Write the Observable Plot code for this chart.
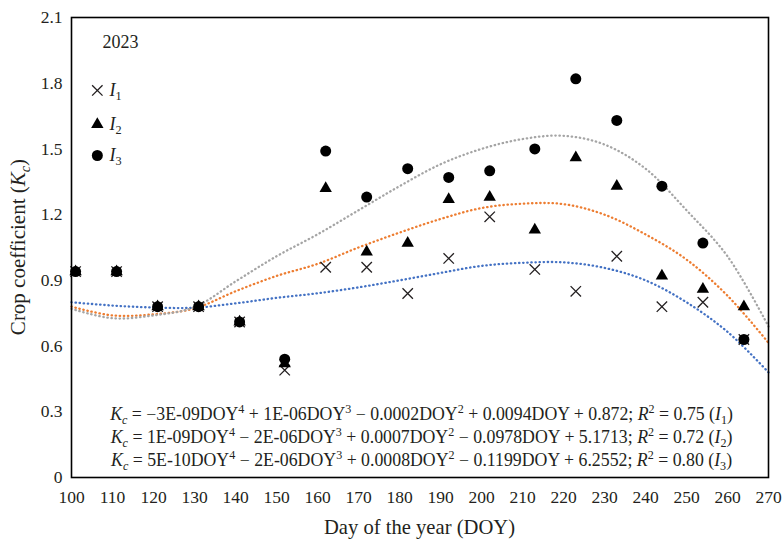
<!DOCTYPE html>
<html>
<head>
<meta charset="utf-8">
<script src="https://cdn.jsdelivr.net/npm/d3@7"></script>
<script src="https://cdn.jsdelivr.net/npm/@observablehq/plot@0.6"></script>
<style>
  html, body { margin: 0; padding: 0; background: #fff; }
  #chart { width: 782px; height: 547px; }
</style>
</head>
<body>
<div id="chart"></div>
<script>
// ---- Data ----
const doy = [101, 111, 121, 131, 141, 152, 162, 172, 182, 192, 202, 213, 223, 233, 244, 254, 264];
const kcI1 = [0.94, 0.94, 0.78, 0.78, 0.71, 0.49, 0.96, 0.96, 0.84, 1.00, 1.19, 0.95, 0.85, 1.01, 0.78, 0.80, 0.63];
const kcI2 = [0.94, 0.94, 0.78, 0.78, 0.71, 0.52, 1.32, 1.03, 1.07, 1.27, 1.28, 1.13, 1.46, 1.33, 0.92, 0.86, 0.78];
const kcI3 = [0.94, 0.94, 0.78, 0.78, 0.71, 0.54, 1.49, 1.28, 1.41, 1.37, 1.40, 1.50, 1.82, 1.63, 1.33, 1.07, 0.63];

// trend lines (4th order polynomial fits)
const trendDoy = [100, 110, 120, 130, 140, 150, 160, 170, 180, 190, 200, 210, 220, 230, 240, 250, 260, 270];
const trendI1 = [0.80, 0.785, 0.776, 0.775, 0.795, 0.82, 0.841, 0.868, 0.90, 0.934, 0.966, 0.98, 0.982, 0.957, 0.90, 0.80, 0.665, 0.48];
const trendI2 = [0.78, 0.74, 0.745, 0.772, 0.85, 0.92, 0.975, 1.05, 1.118, 1.18, 1.23, 1.25, 1.248, 1.20, 1.11, 0.995, 0.83, 0.615];
const trendI3 = [0.77, 0.727, 0.74, 0.778, 0.895, 1.01, 1.11, 1.22, 1.33, 1.43, 1.50, 1.545, 1.56, 1.52, 1.41, 1.22, 1.01, 0.69];

const seriesNames = ["I1", "I2", "I3"];
const trendColors = ["#4472C4", "#ED7D31", "#A5A5A5"];
const xTicks = [100, 110, 120, 130, 140, 150, 160, 170, 180, 190, 200, 210, 220, 230, 240, 250, 260, 270];
const yTicks = [0, 0.3, 0.6, 0.9, 1.2, 1.5, 1.8, 2.1];
const yearLabel = "2023";
const xTitle = "Day of the year (DOY)";
const equations = [
  { a: "−3E-09", b: "1E-06", s1: "+", c: "0.0002", s2: "−", d: "0.0094", s3: "+", e: "0.872", s4: "+", r2: "0.75", sub: "1" },
  { a: "1E-09", b: "2E-06", s1: "−", c: "0.0007", s2: "+", d: "0.0978", s3: "−", e: "5.1713", s4: "+", r2: "0.72", sub: "2" },
  { a: "5E-10", b: "2E-06", s1: "−", c: "0.0008", s2: "+", d: "0.1199", s3: "−", e: "6.2552", s4: "+", r2: "0.80", sub: "3" }
];

// ---- build tables ----
const seriesKc = [kcI1, kcI2, kcI3];
const points = [];
seriesKc.forEach((vals, s) => vals.forEach((v, i) => points.push({ doy: doy[i], kc: v, s })));
const trends = [trendI1, trendI2, trendI3];
const trendRows = [];
trends.forEach((vals, s) => vals.forEach((v, i) => trendRows.push({ doy: trendDoy[i], kc: v, s })));

// legend layout (in data units)
const legX = 106.3;
const legY = [1.767, 1.612, 1.47];
const legendRows = seriesNames.map((n, s) => ({ doy: legX, kc: legY[s], s }));

const FONT = "'Liberation Serif', 'DejaVu Serif', serif";
const INK = "#231f20";

function dotMarks(data, s) {
  const rows = data.filter(d => d.s === s);
  if (s === 0) return Plot.dot(rows, { x: "doy", y: "kc", symbol: "times", r: 4.8, stroke: INK, strokeWidth: 1.3, fill: "none" });
  if (s === 1) return Plot.dot(rows, { x: "doy", y: "kc", symbol: "triangle", r: 4.6, fill: "#000", stroke: "none" });
  return Plot.dot(rows, { x: "doy", y: "kc", symbol: "circle", r: 5.5, fill: "#000", stroke: "none" });
}

const chart = Plot.plot({
  width: 782,
  height: 547,
  marginLeft: 71,
  marginRight: 14,
  marginTop: 17,
  marginBottom: 70,
  style: { fontFamily: FONT, fontSize: "17.5px", color: INK, background: "#fff" },
  x: { domain: [100, 270] },
  y: { domain: [0, 2.1] },
  marks: [
    Plot.axisX({ ticks: xTicks, tickSize: 0, tickPadding: 13, label: null, tickFormat: d => String(d) }),
    Plot.axisY({ ticks: yTicks, tickSize: 0, tickPadding: 9, label: null, tickFormat: d => d === 0 ? "0" : d.toFixed(1) }),
    ...[0, 1, 2].map(s => Plot.line(trendRows.filter(d => d.s === s), {
      x: "doy", y: "kc", stroke: trendColors[s], strokeWidth: 2.3,
      strokeDasharray: "0.4 3.7", strokeLinecap: "round", curve: "catmull-rom",
      className: "trend"
    })),
    dotMarks(points, 0),
    dotMarks(points, 1),
    dotMarks(points, 2),
    dotMarks(legendRows, 0),
    dotMarks(legendRows, 1),
    dotMarks(legendRows, 2),
    Plot.frame({ stroke: "#000", strokeWidth: 1.6 })
  ]
});

document.getElementById("chart").appendChild(chart);

const svg = d3.select(chart);
svg.selectAll(".trend, .trend path")
  .attr("stroke-dasharray", "0.4 3.7")
  .attr("stroke-linecap", "round");

// ---- rich text annotations positioned through the plot's scales ----
const sx = chart.scale("x").apply;
const sy = chart.scale("y").apply;

function rich(parent, parts) {
  let shift = 0;
  parts.forEach(([t, st]) => {
    const ts = parent.append("tspan").text(t);
    let target = 0;
    const small = st.endsWith("sup") || st.endsWith("sub");
    if (st.includes("i")) ts.attr("font-style", "italic");
    if (st.endsWith("sup")) target = -0.38;
    if (st.endsWith("sub")) target = 0.22;
    if (small) ts.attr("font-size", "0.68em");
    const fs = small ? 0.68 : 1;
    const d = target - shift;
    if (d !== 0) ts.attr("dy", (d / fs) + "em");
    shift = target;
  });
  return parent;
}

// year label
svg.append("text")
  .attr("x", sx(107.7)).attr("y", sy(1.986)).attr("dy", "0.35em")
  .attr("text-anchor", "start")
  .attr("font-family", FONT).attr("font-size", 18).attr("fill", INK)
  .text(yearLabel);

// legend labels
seriesNames.forEach((n, s) => {
  const t = svg.append("text")
    .attr("x", sx(109.4)).attr("y", sy(legY[s])).attr("dy", "0.35em")
    .attr("text-anchor", "start")
    .attr("font-family", FONT).attr("font-size", 18).attr("fill", INK);
  rich(t, [["I", "i"], [n.slice(1), "sub"]]);
});

// equations
const eqY = [0.288, 0.183, 0.078];
equations.forEach((e, k) => {
  const t = svg.append("text")
    .attr("x", sx(185.5)).attr("y", sy(eqY[k])).attr("dy", "0.35em")
    .attr("text-anchor", "middle")
    .attr("font-family", FONT).attr("font-size", 17.8).attr("fill", INK);
  rich(t, [
    ["K", "i"], ["c", "isub"],
    [" = " + e.a + "DOY", ""], ["4", "sup"],
    [" " + e.s1 + " " + e.b + "DOY", ""], ["3", "sup"],
    [" " + e.s2 + " " + e.c + "DOY", ""], ["2", "sup"],
    [" " + e.s3 + " " + e.d + "DOY " + e.s4 + " " + e.e + "; ", ""],
    ["R", "i"], ["2", "sup"],
    [" = " + e.r2 + " (", ""], ["I", "i"], [e.sub, "sub"], [")", ""]
  ]);
});

// axis titles
svg.append("text")
  .attr("x", (71 + 768) / 2).attr("y", 527).attr("dy", "0.35em")
  .attr("text-anchor", "middle")
  .attr("font-family", FONT).attr("font-size", 20.6).attr("fill", INK)
  .text(xTitle);

const yt = svg.append("text")
  .attr("transform", `translate(18, ${(17 + 477) / 2}) rotate(-90)`)
  .attr("dy", "0.35em")
  .attr("text-anchor", "middle")
  .attr("font-family", FONT).attr("font-size", 21).attr("fill", INK);
rich(yt, [["Crop coefficient (", ""], ["K", "i"], ["c", "isub"], [")", ""]]);
</script>
</body>
</html>
